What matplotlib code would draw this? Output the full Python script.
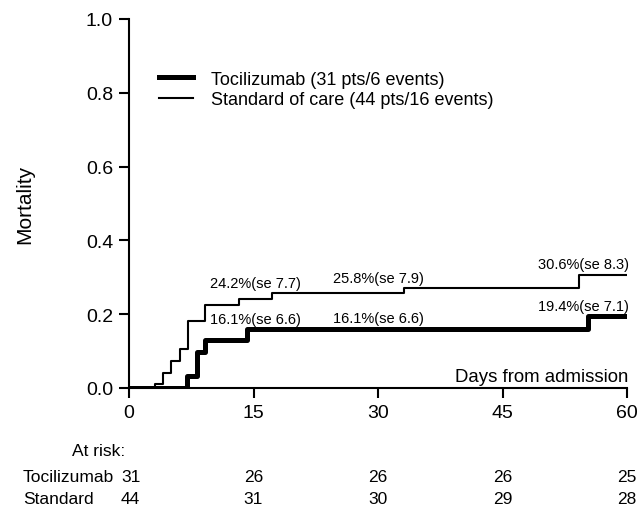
import numpy as np
import matplotlib
matplotlib.use("Agg")
import matplotlib.pyplot as plt

plt.rcParams["font.family"] = ["Liberation Sans", "DejaVu Sans"]

# Kaplan-Meier style cumulative mortality
toci_days = [0, 7.0, 8.2, 9.2, 14.2, 55.3, 60]
toci_mort = [0, 0.033, 0.097, 0.129, 0.161, 0.194, 0.194]
std_days = [0, 3.1, 4.1, 5.1, 6.1, 7.1, 9.2, 13.2, 17.2, 33.1, 54.2, 60]
std_mort = [0, 0.01, 0.04, 0.072, 0.107, 0.182, 0.225, 0.242, 0.258, 0.271, 0.306, 0.306]

toci_label = "Tocilizumab (31 pts/6 events)"
std_label = "Standard of care (44 pts/16 events)"

# annotations: (x, y, text, align)
std_notes = [(15.2, 0.284, "24.2%(se 7.7)", "center"),
             (30.0, 0.298, "25.8%(se 7.9)", "center"),
             (60.2, 0.336, "30.6%(se 8.3)", "right")]
toci_notes = [(15.2, 0.187, "16.1%(se 6.6)", "center"),
              (30.0, 0.190, "16.1%(se 6.6)", "center"),
              (60.2, 0.223, "19.4%(se 7.1)", "right")]

risk_days = [0, 15, 30, 45, 60]
risk_toci = [31, 26, 26, 26, 25]
risk_std = [44, 31, 30, 29, 28]

fig = plt.figure(figsize=(6.4, 5.1), dpi=100)
ax = fig.add_axes([129 / 640, 1 - 389 / 510, 498 / 640, 369 / 510])

ax.step(toci_days, toci_mort, where="post", color="black", lw=3.6,
        label=toci_label, zorder=1)
ax.step(std_days, std_mort, where="post", color="black", lw=1.5,
        label=std_label, zorder=1)

for x, y, s, ha in std_notes + toci_notes:
    ax.text(x, y, s, ha=ha, va="center", fontsize=10.5)

ax.text(60.2, 0.03, "Days from admission", ha="right", va="center", fontsize=13.4)

ax.set_xlim(0, 60)
ax.set_ylim(0, 1.0)
ax.set_xticks(risk_days)
ax.set_yticks([0, 0.2, 0.4, 0.6, 0.8, 1.0])
ax.set_yticklabels(["0.0", "0.2", "0.4", "0.6", "0.8", "1.0"])
ax.tick_params(labelsize=14, width=1.5, length=7.5, pad=4)
for side in ["top", "right"]:
    ax.spines[side].set_visible(False)
for side in ["left", "bottom"]:
    ax.spines[side].set_linewidth(1.5)
    ax.spines[side].set_zorder(3)

ax.set_ylabel("Mortality", fontsize=15)
ax.yaxis.set_label_coords(-0.19, 0.5)

leg = ax.legend(loc="upper left", bbox_to_anchor=(0.045, 0.88), frameon=False,
                fontsize=13, handlelength=1.9, handletextpad=1.0,
                labelspacing=0.2, borderaxespad=0)

# at-risk table
def fig_y(py):
    return 1 - py / 510

fig.text(72 / 640, fig_y(452), "At risk:", ha="left", va="center", fontsize=12.5)
fig.text(23 / 640, fig_y(478), "Tocilizumab", ha="left", va="center", fontsize=12.5)
fig.text(23 / 640, fig_y(500), "Standard", ha="left", va="center", fontsize=12.5)
for d, nt, ns in zip(risk_days, risk_toci, risk_std):
    xd = d + 0.2 if d == 0 else d
    xf = (129 + xd * 498 / 60) / 640
    fig.text(xf, fig_y(478), str(nt), ha="center", va="center", fontsize=12.5)
    fig.text(xf, fig_y(500), str(ns), ha="center", va="center", fontsize=12.5)

fig.savefig("out.png", dpi=100)
